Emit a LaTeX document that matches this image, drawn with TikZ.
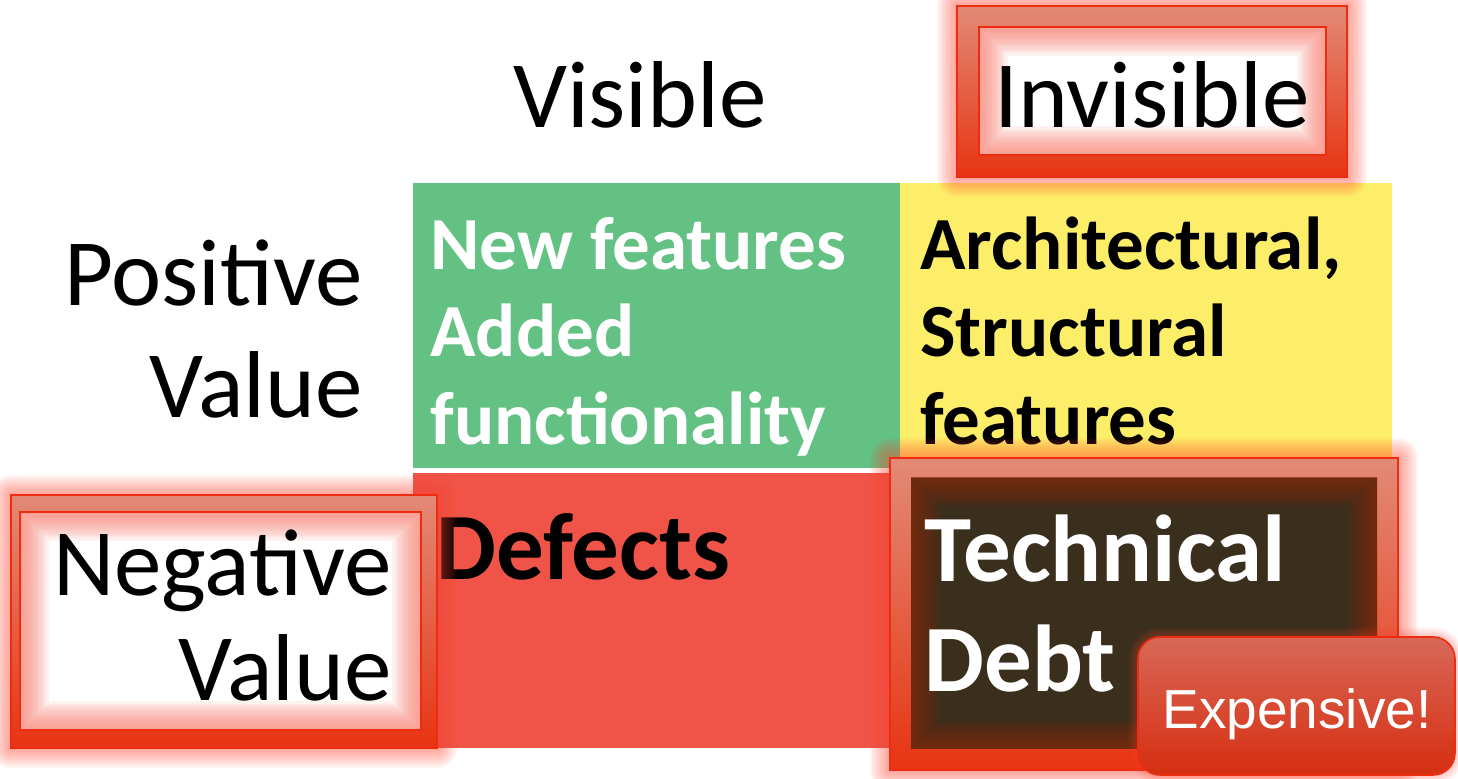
\documentclass[tikz,border=0pt]{standalone}
\usepackage{fontspec}
\setmainfont{Carlito}
\newfontfamily\arialfont{Liberation Sans}

\definecolor{cellgreen}{RGB}{98,193,131}
\definecolor{cellyellow}{RGB}{253,238,105}
\definecolor{cellred}{RGB}{240,84,72}
\definecolor{debtdark}{RGB}{58,46,28}
\definecolor{framered}{RGB}{238,44,18}
\definecolor{frametop}{RGB}{226,138,118}
\definecolor{framemid}{RGB}{180,52,28}
\definecolor{framebot}{RGB}{232,52,18}
\definecolor{glowred}{RGB}{255,70,50}
\definecolor{innerpink}{RGB}{250,120,105}
\definecolor{innerbrown}{RGB}{140,42,14}
\definecolor{btntop}{RGB}{216,104,88}
\definecolor{btnmid}{RGB}{186,42,22}
\definecolor{btnbot}{RGB}{214,46,16}

\tikzset{
  headtext/.style={inner sep=0pt, font=\fontsize{47.5}{52}\selectfont, text=black},
  celltext/.style={inner sep=0pt, anchor=base west, font=\bfseries\fontsize{37.5}{42}\selectfont},
  bigcell/.style={inner sep=0pt, anchor=base west, font=\bfseries\fontsize{47.5}{52}\selectfont},
  btntext/.style={inner sep=0pt, font=\arialfont\fontsize{27.5}{30}\selectfont, text=white}
}

% soft red halo around a rectangle
\newcommand\haloaround[2]{%
  \foreach \k in {1,...,10}{%
    \draw[glowred, line width=\k*2pt, opacity=0.06, line join=round] #1 rectangle #2;}%
}
% soft glow inside a rectangle, fading towards its centre
\newcommand\glowinside[3]{%
  \begin{scope}
    \clip #1 rectangle #2;
    \foreach \k in {1,...,12}{%
      \draw[#3, line width=\k*2.4pt, opacity=0.09] #1 rectangle #2;}%
  \end{scope}%
}
% red highlight frame: halo, shaded border and inner panel
\newcommand\highlightframe[5]{%
  \haloaround{#1}{#2}
  \shade[top color=frametop, middle color=framemid, bottom color=framebot] #1 rectangle #2;
  \draw[framered, line width=1pt] #1 rectangle #2;
  \fill[#5] #3 rectangle #4;
}

\begin{document}
\begin{tikzpicture}[x=0.5pt,y=-0.5pt]
\useasboundingbox (0,0) rectangle (1458,779);
\fill[white] (0,0) rectangle (1458,779);

% the four quadrants
\fill[cellgreen] (413,183) rectangle (900,468);
\fill[cellyellow] (900,183) rectangle (1392,468);
\fill[cellred] (413,473) rectangle (1392,748);

% column and row headings
\node[headtext, anchor=base] (visible) at (640,128) {Visible};
\node[headtext, anchor=base east] (pos1) at (363,306) {Positive};
\node[headtext, anchor=base east] (pos2) at (363,418) {Value};

% quadrant texts
\node[celltext, text=white] (nf1) at (430,270) {New features};
\node[celltext, text=white] (nf2) at (430,357) {Added};
\node[celltext, text=white] (nf3) at (430,445) {functionality};
\node[celltext, text=black] (ar1) at (920,270) {Architectural,};
\node[celltext, text=black] (ar2) at (920,357) {Structural};
\node[celltext, text=black] (ar3) at (920,445) {features};
\node[bigcell, text=black] (defects) at (436,580) {Defects};

% highlighted heading: Invisible
\highlightframe{(957,6)}{(1347,177)}{(979,27)}{(1326,155)}{white}
\glowinside{(979,27)}{(1326,155)}{innerpink}
\draw[framered, line width=0.8pt] (979,27) rectangle (1326,155);
\node[headtext, anchor=base] (invisible) at (1152,128) {Invisible};

% highlighted heading: Negative Value
\highlightframe{(11,495)}{(437,748)}{(20,512)}{(421,730)}{white}
\glowinside{(20,512)}{(421,730)}{innerpink}
\draw[framered, line width=0.8pt] (20,512) rectangle (421,730);
\node[headtext, anchor=base east] (neg1) at (392,596) {Negative};
\node[headtext, anchor=base east] (neg2) at (392,701) {Value};

% highlighted quadrant: Technical Debt
\highlightframe{(890,458)}{(1398,770)}{(911,478)}{(1377,749)}{debtdark}
\glowinside{(911,478)}{(1377,749)}{innerbrown}
\node[bigcell, text=white] (td1) at (924,582) {Technical};
\node[bigcell, text=white] (td2) at (924,692) {Debt};

% callout button
\foreach \k in {1,...,6}{%
  \draw[glowred, line width=\k*1.6pt, opacity=0.05, rounded corners=11pt] (1138,637) rectangle (1455,775);}
\shade[rounded corners=11pt, top color=btntop, middle color=btnmid, bottom color=btnbot]
  (1138,637) rectangle (1455,775);
\draw[framered, line width=0.8pt, rounded corners=11pt] (1138,637) rectangle (1455,775);
\node[btntext, anchor=base] (expensive) at (1297,729) {Expensive!};
\end{tikzpicture}
\end{document}
